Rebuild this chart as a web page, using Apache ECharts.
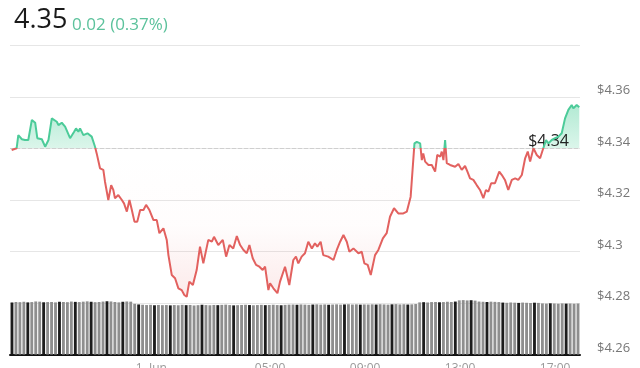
<!DOCTYPE html>
<html><head><meta charset="utf-8">
<script src="https://cdn.jsdelivr.net/npm/echarts@6/dist/echarts.min.js"></script>
<style>html,body{margin:0;padding:0;background:#fff;overflow:hidden}#c{width:640px;height:368px}</style>
</head><body><div id="c"></div><script>
const lastPrice = '4.35';
const changeText = '0.02 (0.37%)';
const prevClose = 4.3402;
const prevCloseLabel = '$4.34';

// hours relative to 1 June 00:00
const hours = [-5.88,-5.67,-5.60,-5.45,-5.32,-5.18,-5.03,-4.89,-4.80,-4.61,-4.47,-4.33,-4.19,-3.98,-3.91,-3.77,-3.63,-3.42,-3.25,-3.17,-3.07,-3.00,-2.86,-2.69,-2.51,-2.37,-2.30,-2.16,-2.02,-1.95,-1.81,-1.69,-1.60,-1.53,-1.39,-1.24,-1.15,-1.03,-0.92,-0.82,-0.71,-0.59,-0.47,-0.33,-0.22,-0.08,0.09,0.23,0.34,0.51,0.65,0.72,0.86,1.00,1.14,1.28,1.39,1.49,1.60,1.75,1.91,2.05,2.19,2.40,2.55,2.64,2.82,3.01,3.15,3.29,3.45,3.60,3.74,3.88,4.02,4.13,4.27,4.41,4.55,4.69,4.79,4.93,5.00,5.14,5.31,5.42,5.49,5.63,5.81,5.98,6.09,6.19,6.33,6.47,6.61,6.76,6.89,6.99,7.13,7.24,7.45,7.67,7.81,7.95,8.09,8.23,8.34,8.51,8.72,8.86,8.97,9.11,9.24,9.42,9.56,9.75,9.91,10.05,10.22,10.40,10.61,10.76,10.92,11.08,11.18,11.32,11.39,11.45,11.53,11.67,11.81,11.95,12.04,12.16,12.23,12.30,12.37,12.44,12.58,12.79,12.93,13.07,13.21,13.31,13.42,13.56,13.70,13.84,13.98,14.09,14.19,14.31,14.47,14.65,14.76,14.89,15.03,15.18,15.32,15.45,15.60,15.74,15.85,15.95,16.09,16.23,16.37,16.48,16.62,16.72,16.86,17.00,17.14,17.28,17.42,17.56,17.70,17.77,17.91,18.02];
const prices = [4.3394,4.3401,4.3452,4.3436,4.3433,4.3433,4.3511,4.3500,4.3440,4.3436,4.3407,4.3433,4.3517,4.3504,4.3491,4.3500,4.3485,4.3440,4.3465,4.3478,4.3465,4.3478,4.3452,4.3459,4.3446,4.3407,4.3381,4.3323,4.3317,4.3271,4.3200,4.3258,4.3239,4.3207,4.3219,4.3200,4.3187,4.3155,4.3200,4.3161,4.3116,4.3116,4.3161,4.3161,4.3181,4.3161,4.3122,4.3122,4.3071,4.3090,4.3045,4.2986,4.2909,4.2896,4.2857,4.2850,4.2831,4.2824,4.2883,4.2870,4.2928,4.3019,4.2954,4.3045,4.3038,4.3057,4.3025,4.3045,4.2980,4.3025,4.3012,4.3060,4.3025,4.3006,4.2993,4.3025,4.2974,4.2948,4.2941,4.2928,4.2941,4.2850,4.2877,4.2857,4.2838,4.2883,4.2877,4.2941,4.2870,4.2967,4.2980,4.2954,4.2980,4.2993,4.3038,4.3012,4.3032,4.3019,4.3038,4.2986,4.2980,4.2967,4.3006,4.3038,4.3064,4.3038,4.2999,4.3012,4.2993,4.2999,4.2954,4.2948,4.2909,4.2986,4.3006,4.3051,4.3071,4.3135,4.3168,4.3148,4.3148,4.3155,4.3213,4.3420,4.3426,4.3420,4.3355,4.3381,4.3349,4.3336,4.3336,4.3310,4.3375,4.3368,4.3388,4.3355,4.3433,4.3343,4.3336,4.3329,4.3340,4.3317,4.3332,4.3310,4.3284,4.3278,4.3258,4.3239,4.3207,4.3239,4.3232,4.3265,4.3265,4.3310,4.3297,4.3278,4.3239,4.3278,4.3284,4.3278,4.3297,4.3362,4.3388,4.3349,4.3401,4.3375,4.3362,4.3394,4.3433,4.3420,4.3433,4.3440,4.3446,4.3459,4.3517,4.3550,4.3569,4.3556,4.3569,4.3560];

const volumes = [50.5,51,50.8,51.2,50.6,50.9,51.5,51.3,50.7,50.9,51,50.6,51.2,51,50.8,51.4,51.1,50.9,51.3,51.6,51.2,50.8,51,51.4,51.7,51.5,51,50.6,51.2,51.5,51.3,
49.2,48.6,48.3,48.0,48.2,47.8,48.1,47.9,48.0,47.7,
48.0,47.8,48.2,47.9,48.1,47.6,47.9,48.3,48.0,47.8,
48.1,47.9,48.2,48.4,48.0,47.7,47.9,48.1,48.3,48.0,
47.8,48.0,48.2,47.9,48.1,48.3,48.0,47.8,48.2,48.4,
48.5,48.3,48.6,48.4,48.2,48.5,48.7,48.4,48.6,48.3,
48.5,48.7,48.4,48.6,48.8,48.5,48.7,48.4,48.6,48.5,
48.7,48.5,48.8,48.6,48.4,48.7,48.9,48.6,48.8,48.5,48.7,49.0,
50.6,50.8,50.5,50.9,51.0,50.7,50.9,51.2,51.0,51.4,
52.6,52.8,52.5,52.7,52.3,
51.4,51.2,51.0,51.3,51.1,50.9,
50.4,50.2,50.5,50.3,50.1,50.4,50.2,50.0,50.3,50.1,
49.6,49.4,49.7,49.5,49.3,49.6,49.4,49.5,49.3,49.5];

const xTickValues = [0,5,9,13,17];
const xTickLabels = ['1. Jun','05:00','09:00','13:00','17:00'];
const yMin = 4.26, yMax = 4.38, yStep = 0.02, yLabelMax = 4.36;

const GREEN = '#4ccb99', RED = '#e2615f';
const chart = echarts.init(document.getElementById('c'), null, {renderer: 'canvas'});
const priceData = hours.map((h, i) => [h, prices[i]]);
const volCats = volumes.map((v, i) => String(i));

chart.setOption({
  animation: false,
  backgroundColor: '#fff',
  textStyle: {fontFamily: 'Open Sans'},
  title: {
    left: 9, top: -5,
    text: '{a|' + lastPrice + '} {b|' + changeText + '}',
    textStyle: {
      fontWeight: 'normal',
      rich: {
        a: {fontSize: 27, color: '#1a1a1a', fontFamily: 'Open Sans', fontWeight: 'normal', verticalAlign: 'bottom', lineHeight: 34},
        b: {fontSize: 17, color: '#5cc29c', fontFamily: 'Open Sans', fontWeight: 'normal', verticalAlign: 'bottom', lineHeight: 30}
      }
    }
  },
  grid: {left: 10, right: 60, top: 45.5, bottom: 13.5, containLabel: false, outerBoundsMode: 'none'},
  xAxis: [{
    type: 'value', min: -5.95, max: 18.05,
    axisLine: {show: true, onZero: false, lineStyle: {color: '#111', width: 2}},
    axisTick: {show: false},
    splitLine: {show: false},
    axisLabel: {
      customValues: xTickValues, color: '#999', fontSize: 12, margin: 8,
      formatter: v => xTickLabels[xTickValues.indexOf(Math.round(v))] || ''
    }
  }, {
    type: 'category', data: volCats, show: false, boundaryGap: true
  }],
  yAxis: [{
    type: 'value', position: 'right', min: yMin, max: yMax, interval: yStep,
    axisLine: {show: false}, axisTick: {show: false},
    splitLine: {lineStyle: {color: '#e6e6e6', width: 1}},
    axisLabel: {
      color: '#777', fontSize: 13, margin: 17, verticalAlign: 'bottom',
      formatter: v => v > yLabelMax + 0.001 ? '' : '$' + (+v.toFixed(2))
    }
  }, {
    type: 'value', min: 0, max: 300, show: false, splitLine: {show: false}
  }],
  visualMap: {
    show: false, type: 'piecewise', seriesIndex: 0, dimension: 1,
    pieces: [{gt: prevClose, lte: yMax, color: GREEN}, {gte: yMin, lte: prevClose, color: RED}],
    outOfRange: {color: RED}
  },
  series: [{
    type: 'line', data: priceData, showSymbol: false, symbol: 'none',
    lineStyle: {width: 2},
    areaStyle: {origin: prevClose, color: 'rgba(0,0,0,0)'},
    z: 5,
    markLine: {
      silent: true, symbol: ['none', 'none'],
      lineStyle: {type: 'dashed', color: '#cfcfcf', width: 1},
      label: {show: true, position: 'insideEndTop', formatter: prevCloseLabel, color: '#222', fontSize: 16, distance: -1, padding: [0, 12, 0, 0]},
      data: [{yAxis: prevClose}]
    }
  }, {
    type: 'bar', xAxisIndex: 1, yAxisIndex: 1, data: volumes, barWidth: '72%',
    itemStyle: {color: p => p.dataIndex % 4 === 0 ? '#1c1c1c' : '#8e8e8e'},
    z: 2
  }]
});

const yTop = chart.convertToPixel({yAxisIndex: 0}, 4.36);
const yBase = chart.convertToPixel({yAxisIndex: 0}, prevClose);
const yBot = chart.convertToPixel({yAxisIndex: 0}, 4.28);
const f = (yBase - yTop) / (yBot - yTop);
chart.setOption({
  series: [{
    areaStyle: {
      origin: prevClose,
      color: new echarts.graphic.LinearGradient(0, yTop, 0, yBot, [
        {offset: 0, color: 'rgba(70,205,150,0.65)'},
        {offset: f, color: 'rgba(70,205,150,0.28)'},
        {offset: f + 0.001, color: 'rgba(230,95,95,0)'},
        {offset: f + (1 - f) * 0.5, color: 'rgba(230,95,95,0.02)'},
        {offset: 1, color: 'rgba(230,95,95,0.2)'}
      ], true)
    }
  }]
});
</script></body></html>
